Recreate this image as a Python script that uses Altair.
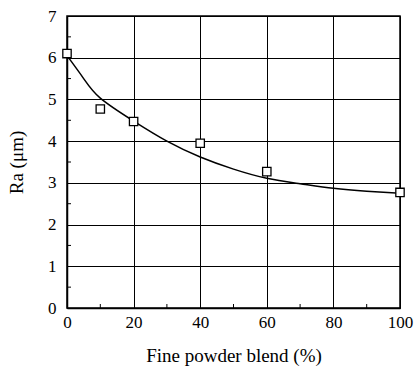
import altair as alt
import pandas as pd

# Measured points
blend_pct = [0, 10, 20, 40, 60, 100]
ra_um = [6.1, 4.77, 4.47, 3.95, 3.27, 2.77]

# Fitted curve
fit_x = [0, 5, 10, 20, 30, 40, 50, 60, 70, 80, 90, 100]
fit_y = [6.05, 5.5, 5.03, 4.48, 4.0, 3.62, 3.33, 3.11, 2.98, 2.87, 2.8, 2.75]

x_ticks = [0, 20, 40, 60, 80, 100]
y_ticks = [0, 1, 2, 3, 4, 5, 6, 7]
x_minor = [10, 30, 50, 70, 90]
y_minor = [0.5, 1.5, 2.5, 3.5, 4.5, 5.5, 6.5]

FONT = "'Times New Roman', 'Liberation Serif', 'DejaVu Serif', serif"
W, H = 333, 292

pts = pd.DataFrame({"x": blend_pct, "y": ra_um})
fit = pd.DataFrame({"x": fit_x, "y": fit_y})
xm = pd.DataFrame({"x": x_minor})
ym = pd.DataFrame({"y": y_minor})

xscale = alt.Scale(domain=[0, 100], nice=False)
yscale = alt.Scale(domain=[0, 7], nice=False)

xaxis = alt.Axis(
    values=x_ticks, title="Fine powder blend (%)", ticks=False, labelPadding=6,
    grid=True, gridColor="black", gridWidth=1, gridOpacity=1,
    domainColor="black", domainWidth=1.5, labelFont=FONT, labelFontSize=17,
    labelColor="black", titleFont=FONT, titleFontSize=19, titleFontWeight="normal",
    titleColor="black", titlePadding=16, labelFlush=False)
yaxis = alt.Axis(
    values=y_ticks, title="Ra (\u03bcm)", ticks=False, labelPadding=11,
    grid=True, gridColor="black", gridWidth=1, gridOpacity=1,
    domainColor="black", domainWidth=1.5, labelFont=FONT, labelFontSize=17,
    labelColor="black", titleFont=FONT, titleFontSize=19, titleFontWeight="normal",
    titleColor="black", titlePadding=21, labelFlush=False)

curve = alt.Chart(fit).mark_line(color="black", strokeWidth=1.5, interpolate="natural").encode(
    x=alt.X("x:Q", scale=xscale, axis=xaxis),
    y=alt.Y("y:Q", scale=yscale, axis=yaxis),
)

points = alt.Chart(pts).mark_point(shape="square", filled=True, fill="white", stroke="black",
                                   strokeWidth=1.3, size=70, opacity=1).encode(
    x=alt.X("x:Q", scale=xscale, axis=xaxis),
    y=alt.Y("y:Q", scale=yscale, axis=yaxis),
)

xminor = alt.Chart(xm).mark_rule(color="black", strokeWidth=1).encode(
    x=alt.X("x:Q", scale=xscale, axis=xaxis),
    y=alt.value(H), y2=alt.value(H - 4),
)
yminor = alt.Chart(ym).mark_rule(color="black", strokeWidth=1).encode(
    y=alt.Y("y:Q", scale=yscale, axis=yaxis),
    x=alt.value(0), x2=alt.value(4),
)

chart = alt.layer(curve, xminor, yminor, points).properties(
    width=W, height=H,
    padding={"left": 67, "top": 16, "right": 14, "bottom": 60},
    autosize=alt.AutoSizeParams(type="none"),
    background="white",
).configure_view(stroke="black", strokeWidth=1.5)

chart.save("out.html", embed_options={"renderer": "svg", "actions": False})
